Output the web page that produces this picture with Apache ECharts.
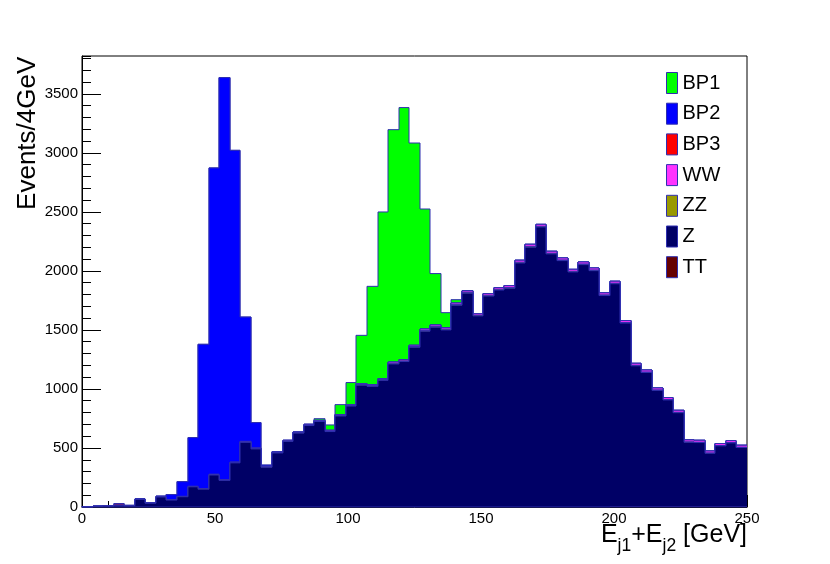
<!DOCTYPE html>
<html>
<head>
<meta charset="utf-8">
<script src="https://cdn.jsdelivr.net/npm/echarts@6/dist/echarts.min.js"></script>
<style>
  html, body { margin: 0; background: #fff; }
  #chart { width: 830px; height: 564px; }
</style>
</head>
<body>
<div id="chart"></div>
<script>
// 63 bins between 0 and 250 GeV
const xMin = 0
const xMax = 250
const nBins = 63
const xTicks = [0, 50, 100, 150, 200, 250]

// events per bin, one array per process
const bp1 = [0, 0, 0, 0, 0, 0, 0, 0, 0, 0,
  0, 0, 0, 0, 0, 0, 0, 0, 0, 0,
  1, 2, 14, 45, 84, 187, 409, 832, 1411, 1968,
  2134, 1713, 1016, 435, 127, 28, 3, 0, 0, 0,
  0, 0, 0, 0, 0, 0, 0, 0, 0, 0,
  0, 0, 0, 0, 0, 0, 0, 0, 0, 0,
  0, 0, 0]
const bp2 = [0, 0, 0, 0, 0, 1, 2, 5, 43, 125,
  413, 1222, 2595, 3405, 2640, 1053, 215, 10, 3, 0,
  0, 0, 0, 0, 0, 0, 0, 0, 0, 0,
  0, 0, 0, 0, 0, 0, 0, 0, 0, 0,
  0, 0, 0, 0, 0, 0, 0, 0, 0, 0,
  0, 0, 0, 0, 0, 0, 0, 0, 0, 0,
  0, 0, 0]
const bp3 = [0, 0, 1, 12, 2, 0, 0, 0, 0, 0,
  0, 0, 0, 0, 0, 0, 0, 0, 0, 0,
  0, 0, 0, 0, 0, 0, 0, 0, 0, 0,
  0, 0, 0, 0, 0, 0, 0, 0, 0, 0,
  0, 0, 0, 0, 0, 0, 0, 0, 0, 0,
  0, 0, 0, 0, 0, 0, 0, 0, 0, 0,
  0, 0, 0]
const ww = [0, 1, 1, 2, 1, 2, 2, 2, 2, 2,
  3, 3, 4, 4, 4, 5, 5, 5, 5, 5,
  5, 6, 6, 6, 7, 7, 8, 9, 9, 10,
  11, 11, 12, 12, 12, 12, 12, 12, 13, 13,
  15, 16, 17, 16, 16, 16, 16, 16, 16, 16,
  16, 16, 16, 16, 16, 16, 16, 16, 16, 16,
  16, 16, 16]
const zz = [0, 0, 0, 0, 0, 1, 0, 1, 1, 1,
  1, 2, 2, 2, 3, 3, 3, 3, 3, 4,
  4, 4, 4, 5, 5, 5, 5, 6, 6, 6,
  6, 6, 7, 7, 7, 7, 7, 7, 7, 7,
  7, 7, 7, 6, 6, 6, 6, 6, 6, 6,
  5, 5, 5, 5, 4, 4, 4, 4, 3, 3,
  3, 3, 3]
const zj = [3, 7, 9, 15, 11, 65, 32, 85, 59, 87,
  171, 151, 271, 226, 374, 548, 492, 337, 458, 556,
  626, 690, 724, 639, 771, 855, 1032, 1022, 1073, 1212,
  1232, 1353, 1489, 1523, 1500, 1709, 1811, 1619, 1787, 1838,
  1853, 2067, 2201, 2372, 2144, 2087, 1991, 2053, 2002, 1791,
  1890, 1557, 1195, 1138, 987, 906, 798, 547, 545, 454,
  517, 542, 503]
const tt = [0, 0, 0, 0, 0, 0, 0, 0, 0, 0,
  0, 0, 0, 0, 0, 0, 0, 0, 0, 0,
  0, 0, 0, 0, 0, 0, 0, 0, 0, 0,
  0, 0, 0, 0, 0, 0, 0, 0, 0, 0,
  0, 0, 0, 0, 0, 0, 0, 0, 0, 0,
  1, 1, 1, 1, 1, 1, 1, 1, 1, 1,
  1, 1, 1]

const names = ['BP1', 'BP2', 'BP3', 'WW', 'ZZ', 'Z', 'TT']
const colors = ['#00ff00', '#0000ff', '#ff0000', '#ff33ff', '#999900', '#000066', '#660000']
const values = [bp1, bp2, bp3, ww, zz, zj, tt]
const lineColor = '#2f2fb0'
const font = 'Liberation Sans'
const binWidth = (xMax - xMin) / nBins

// THStack: every layer is drawn from 0 up to the running sum of itself and all layers below it
const tops = values.map((v, i) => v.map((_, k) => {
  let s = 0
  for (let j = i; j < values.length; j++) s += values[j][k]
  return s
}))

function makeRender (top, fill) {
  return function (params, api) {
    const k = api.value(0)
    const x0 = Math.round(api.coord([xMin + k * binWidth, 0])[0])
    const x1 = Math.round(api.coord([xMin + (k + 1) * binWidth, 0])[0])
    const yb = api.coord([0, 0])[1]
    const yt = api.coord([0, top[k]])[1]
    const yp = api.coord([0, k > 0 ? top[k - 1] : 0])[1]
    return {
      type: 'group',
      children: [
        {
          type: 'rect',
          shape: { x: x0, y: yt, width: x1 - x0, height: yb - yt },
          style: { fill: fill }
        },
        {
          type: 'polyline',
          shape: { points: [[x0, yp], [x0, yt], [x1, yt]] },
          style: { stroke: lineColor, lineWidth: 1, fill: null }
        }
      ]
    }
  }
}

const chart = echarts.init(document.getElementById('chart'))
chart.setOption({
  animation: false,
  backgroundColor: '#fff',
  textStyle: { fontFamily: font },
  grid: {
    left: 82, right: 83, top: 56, bottom: 57,
    show: true, borderColor: '#000', borderWidth: 1, backgroundColor: 'transparent'
  },
  legend: {
    orient: 'vertical',
    left: 666,
    top: 72,
    padding: 0,
    itemWidth: 11,
    itemHeight: 21,
    itemGap: 8.7,
    icon: 'rect',
    selectedMode: false,
    itemStyle: { borderColor: lineColor, borderWidth: 1 },
    textStyle: { fontSize: 20, color: '#000', fontFamily: font },
    data: names
  },
  xAxis: {
    type: 'value',
    min: xMin,
    max: xMax,
    interval: 50,
    axisLine: { lineStyle: { color: '#000', width: 1 } },
    axisTick: { inside: true, length: 12, lineStyle: { color: '#000' } },
    minorTick: { show: true, splitNumber: 5, length: 6, lineStyle: { color: '#000' } },
    splitLine: { show: false },
    axisLabel: {
      fontSize: 15, color: '#000', margin: 4, fontFamily: font,
      customValues: xTicks,
      formatter: v => String(v)
    }
  },
  yAxis: [
    {
      type: 'value',
      min: 0,
      max: 3820,
      interval: 500,
      axisLine: { show: true, lineStyle: { color: '#000', width: 1 } },
      axisTick: { inside: true, length: 19, lineStyle: { color: '#000' } },
      splitLine: { show: false },
      axisLabel: {
        fontSize: 15, color: '#000', margin: 4, fontFamily: font,
        showMaxLabel: false,
        formatter: v => String(v)
      }
    },
    {
      // minor ticks every 100 events
      type: 'value',
      position: 'left',
      min: 0,
      max: 3820,
      interval: 100,
      axisLine: { show: false },
      axisTick: { inside: true, length: 9, lineStyle: { color: '#000' } },
      splitLine: { show: false },
      axisLabel: { show: false }
    }
  ],
  graphic: [
    {
      type: 'text',
      x: 28,
      y: 56.7,
      rotation: Math.PI / 2,
      style: {
        text: 'Events/4GeV',
        fontSize: 26,
        fontFamily: font,
        fill: '#000',
        textAlign: 'right',
        textVerticalAlign: 'middle'
      }
    },
    {
      type: 'text',
      x: 747,
      y: 523,
      style: {
        text: '{n|E}{s|j1}{n|+E}{s|j2}{n| [GeV]}',
        fill: '#000',
        textAlign: 'right',
        textVerticalAlign: 'top',
        rich: {
          n: { fontSize: 25, fontFamily: font, lineHeight: 25, verticalAlign: 'top', color: '#000' },
          s: { fontSize: 17.5, fontFamily: font, lineHeight: 17.5, verticalAlign: 'top', padding: [14, 0, 0, 0], color: '#000' }
        }
      }
    }
  ],
  series: names.map((name, i) => ({
    name: name,
    type: 'custom',
    z: 2 + i,
    itemStyle: { color: colors[i] },
    encode: { x: 0, y: 1 },
    data: tops[i].map((v, k) => [k, v]),
    renderItem: makeRender(tops[i], colors[i])
  }))
})
</script>
</body>
</html>
